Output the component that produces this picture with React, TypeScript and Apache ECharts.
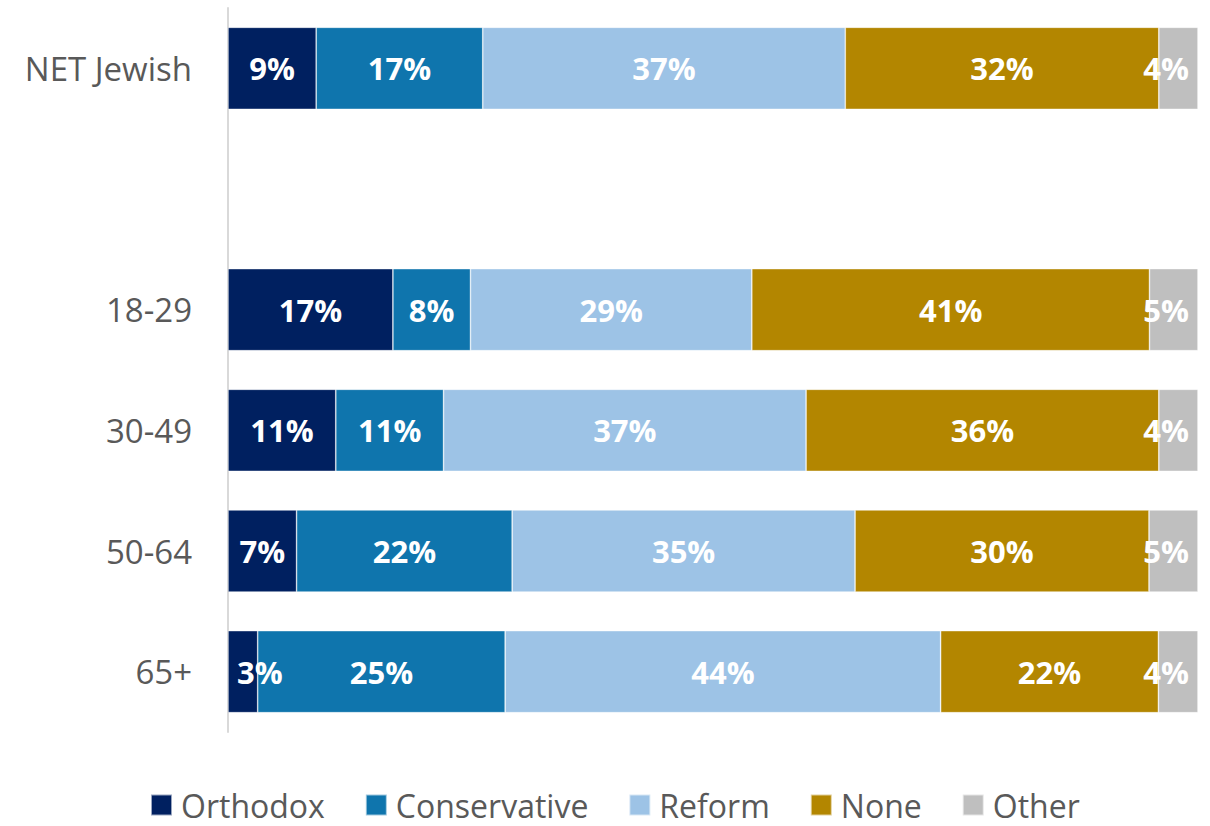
import React, { useEffect, useRef } from "react";
import * as echarts from "echarts";

const categories = ["NET Jewish", "", "18-29", "30-49", "50-64", "65+"];
const seriesNames = ["Orthodox", "Conservative", "Reform", "None", "Other"];
const orthodox = [9, null, 17, 11, 7, 3];
const conservative = [17, null, 8, 11, 22, 25];
const reform = [37, null, 29, 37, 35, 44];
const none = [32, null, 41, 36, 30, 22];
const other = [4, null, 5, 4, 5, 4];
const colors = ["#002060", "#0F75AD", "#9DC3E6", "#B38600", "#BFBFBF"];

const FONT = "'Open Sans', sans-serif";
const GRID_LEFT = 228;
const GRID_RIGHT = 12;
const WIDTH = 1210;

export default function App() {
  const ref = useRef<HTMLDivElement>(null);
  useEffect(() => {
    if (!ref.current) return;
    const chart = echarts.init(ref.current, null, { renderer: "svg" });
    const raw = [orthodox, conservative, reform, none, other];
    const totals = categories.map((_, i) =>
      raw.reduce((s, arr) => s + (arr[i] ?? 0), 0)
    );
    const series = raw.map((arr, si) => ({
      name: seriesNames[si],
      type: "bar",
      stack: "total",
      barCategoryGap: "32%",
      itemStyle: { color: colors[si], borderColor: "rgba(255,255,255,0.6)", borderWidth: 0.7 },
      label: {
        show: true,
        position: "inside",
        color: "#ffffff",
        fontFamily: FONT,
        fontWeight: "bold",
        fontSize: 31,
        overflow: "none",
        formatter: (p: any) => (arr[p.dataIndex] == null ? "" : arr[p.dataIndex] + "%"),
      },
      labelLayout: (params: any) => {
        const lr = params.labelRect;
        const r = params.rect;
        if (!lr || !r) return {};
        const pad = 9;
        const minC = GRID_LEFT + pad + lr.width / 2;
        const maxC = WIDTH - GRID_RIGHT - pad - lr.width / 2;
        let c = r.x + r.width / 2;
        if (c < minC) c = minC;
        if (c > maxC) c = maxC;
        return { x: c, y: r.y + r.height / 2, align: "center", verticalAlign: "middle" };
      },
      data: arr.map((v, i) => (v == null ? null : (v / totals[i]) * 100)),
    }));
    chart.setOption({
      animation: false,
      textStyle: { fontFamily: FONT },
      grid: { left: GRID_LEFT, right: GRID_RIGHT, top: 8, bottom: 94, containLabel: false },
      legend: {
        data: seriesNames,
        bottom: 3,
        left: 150,
        padding: 0,
        itemWidth: 21,
        itemHeight: 21,
        itemGap: 40,
        icon: "rect",
        textStyle: {
          color: "#595959",
          fontSize: 32,
          lineHeight: 36,
          fontFamily: FONT,
          padding: [0, 0, 0, 4],
        },
      },
      xAxis: {
        type: "value",
        min: 0,
        max: 100,
        show: false,
        splitLine: { show: false },
      },
      yAxis: {
        type: "category",
        data: categories,
        inverse: true,
        axisLine: { show: true, lineStyle: { color: "#D9D9D9", width: 2 } },
        axisTick: { show: false },
        axisLabel: { color: "#595959", fontSize: 33, fontFamily: FONT, margin: 36 },
      },
      series,
    });
    return () => chart.dispose();
  }, []);
  return (
    <div
      ref={ref}
      style={{ position: "absolute", left: 0, top: 0, width: 1210, height: 826, background: "#fff" }}
    />
  );
}
